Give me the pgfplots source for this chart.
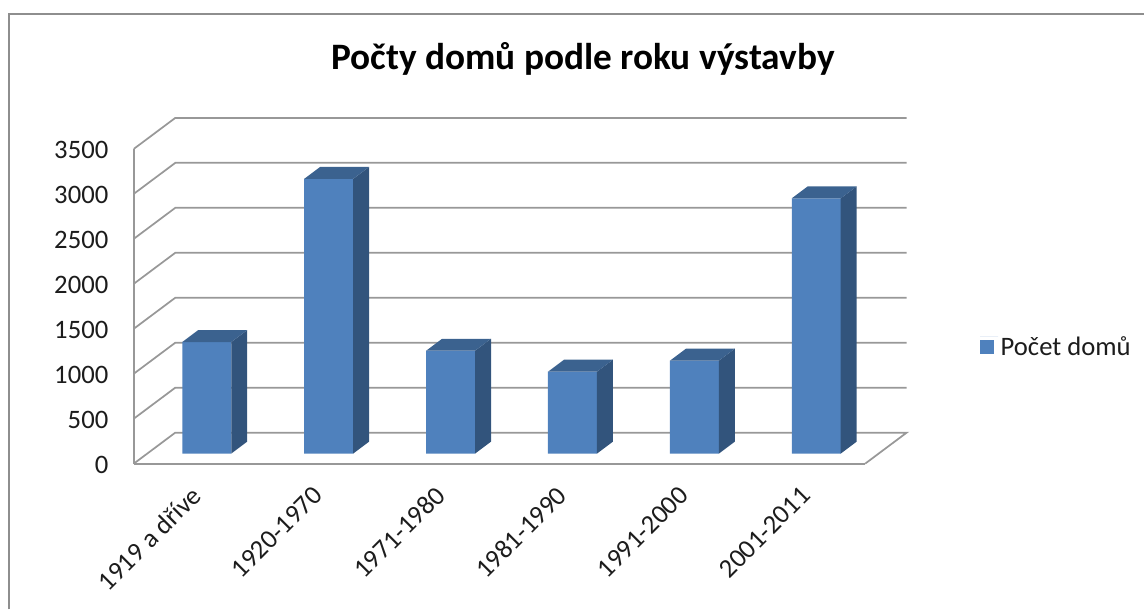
\documentclass[border=0pt]{standalone}
\usepackage{fontspec}
\setmainfont{Carlito}
\usepackage{pgfplots}
\pgfplotsset{compat=1.18}
\definecolor{barfront}{HTML}{4F81BD}
\definecolor{barside}{HTML}{32547C}
\definecolor{bartop}{HTML}{3B628F}
\definecolor{gridc}{HTML}{989898}
\definecolor{framec}{HTML}{8E8E8E}
\definecolor{textc}{HTML}{1C1C1C}
\newcommand{\barfaces}[2]{%
  \addplot[fill=barside,draw=none,forget plot,xshift=9pt,yshift=7.5pt]
    coordinates {({#1+.2008},0) ({#1+.3319},133.3) ({#1+.3319},{#2+133.3}) ({#1+.2008},#2)};
  \addplot[fill=bartop,draw=none,forget plot,xshift=9pt,yshift=7.5pt]
    coordinates {({#1-.2008},#2) ({#1-.0697},{#2+133.3}) ({#1+.3319},{#2+133.3}) ({#1+.2008},#2)};
}
\newcommand{\gridl}[1]{%
  \addplot[gridc,line width=1.3pt,forget plot]
    coordinates {(-0.5,#1) (-0.16,{#1+344.4}) (5.84,{#1+344.4})};
}
\begin{document}
\begin{tikzpicture}
\begin{axis}[
  scale only axis, width=549pt, height=236.25pt,
  xmin=-0.5, xmax=5.5, ymin=0, ymax=3500,
  clip=false,
  axis x line*=bottom, axis y line*=left,
  axis line style={gridc,line width=1.4pt,-},
  major tick length=0pt,
  xtick={0,1,2,3,4,5},
  xticklabels={1919 a dříve,1920-1970,1971-1980,1981-1990,1991-2000,2001-2011},
  ytick={0,500,1000,1500,2000,2500,3000,3500},
  /pgf/number format/assume math mode=true,
  /pgf/number format/1000 sep={},
  yticklabel style={font=\fontsize{20}{24}\selectfont,text=textc,inner sep=0pt,xshift=-19pt,yshift=-1pt},
  xticklabel style={font=\fontsize{20}{24}\selectfont,text=textc,rotate=45,anchor=north east,inner sep=0pt,xshift=-13.7pt,yshift=-8.5pt},
  legend style={draw=none,fill=none,at={(1.157,0.3715)},anchor=west,inner sep=0pt,outer sep=0pt,
    font=\fontsize{20}{24}\selectfont,text=textc},
  legend image code/.code={\path (0pt,0pt) -- (13.5pt,0pt);\fill[#1] (0pt,-12.75pt) rectangle (10.5pt,-2.25pt);},
]
% frame and page extent
\path (axis cs:-1.598,-1622.2) rectangle (axis cs:7.787,5155.6);
\draw[framec,line width=1.5pt] (axis cs:-1.5205,-1622.2) -- (axis cs:-1.5205,5005) -- (axis cs:7.787,5005);
\node[font=\fontsize{28}{34}\bfseries\selectfont,text=black] at (axis cs:3.184,4500) {Počty domů podle roku výstavby};
% floor and walls
\addplot[gridc,line width=1.3pt,forget plot] coordinates {(-0.5,0) (-0.16,344.4) (5.84,344.4) (5.5,0)};
\gridl{500}\gridl{1000}\gridl{1500}\gridl{2000}\gridl{2500}\gridl{3000}\gridl{3500}
% bars
\addplot[ybar,bar width=36.75pt,bar shift=0pt,fill=barfront,draw=none,xshift=9pt,yshift=7.5pt]
  coordinates {(0,1241) (1,3055) (2,1144) (3,911) (4,1033) (5,2839)};
\addlegendentry{Počet domů}
\barfaces{0}{1241}
\barfaces{1}{3055}
\barfaces{2}{1144}
\barfaces{3}{911}
\barfaces{4}{1033}
\barfaces{5}{2839}
\end{axis}
\end{tikzpicture}
\end{document}
